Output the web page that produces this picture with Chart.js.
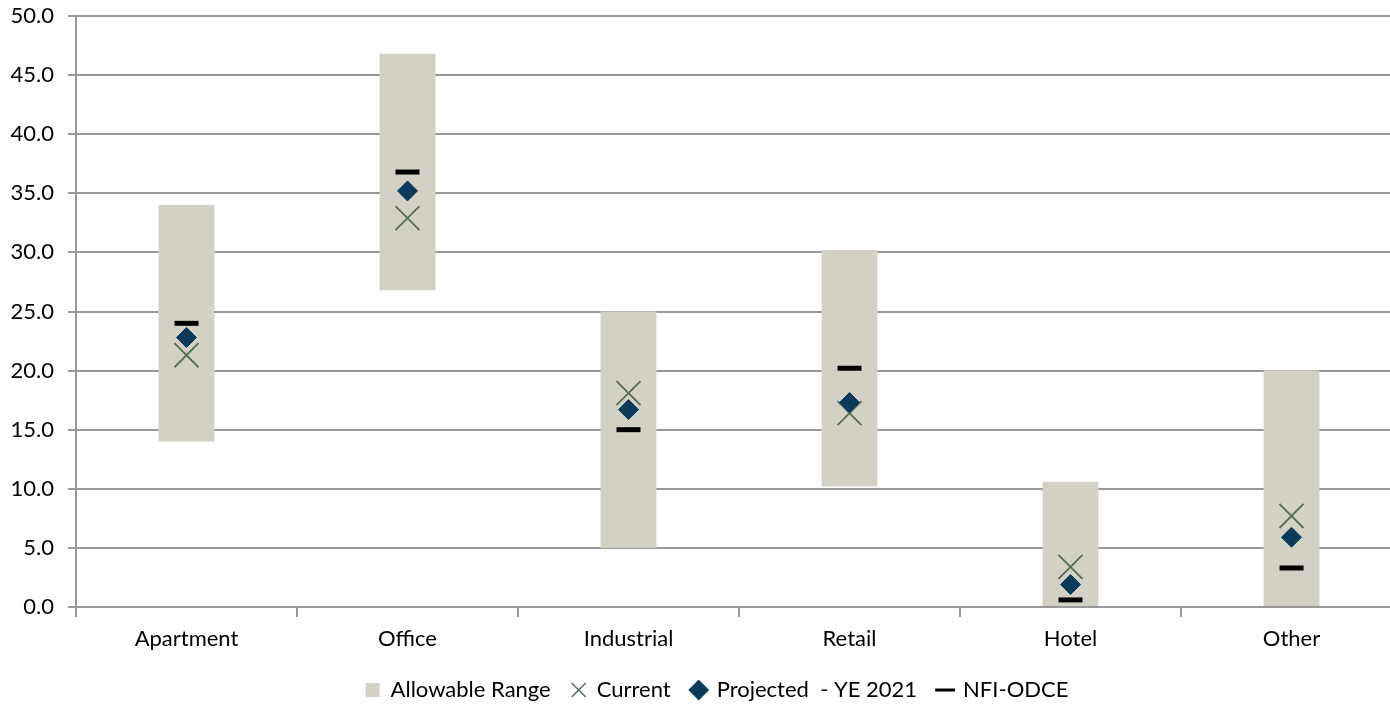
<!DOCTYPE html>
<html><head><meta charset="utf-8">
<script src="https://cdn.jsdelivr.net/npm/chart.js@4/dist/chart.umd.min.js"></script>
<style>
html,body{margin:0;padding:0;background:#fff;overflow:hidden;}
canvas{display:block;}
</style></head>
<body>
<canvas id="c" width="1434" height="704" style="width:1434px;height:704px"></canvas>
<script>
const categories = ["Apartment","Office","Industrial","Retail","Hotel","Other"];
const rangeLow  = [14.0, 26.8, 5.0, 10.2, 0.0, 0.0];
const rangeHigh = [34.0, 46.8, 25.0, 30.2, 10.6, 20.0];
const current   = [21.3, 32.9, 18.1, 16.4, 3.4, 7.7];
const projected = [22.8, 35.2, 16.7, 17.3, 1.9, 5.9];
const nfiOdce   = [24.0, 36.8, 15.0, 20.2, 0.6, 3.3];
const yTicks = [0,5,10,15,20,25,30,35,40,45,50];

const FONT = "Lato, 'Open Sans', sans-serif";
const FS = 22;
Chart.defaults.font.family = FONT;
Chart.defaults.font.size = FS;
Chart.defaults.color = '#000';

new Chart(document.getElementById('c'), {
  data: {
    labels: categories,
    datasets: [
      { type:'bar', label:'Allowable Range', data: rangeLow.map((l,i)=>[l, rangeHigh[i]]),
        backgroundColor:'#d3d1c5', borderWidth:0, barPercentage:0.253, categoryPercentage:1.0,
        pointStyle:'rect', order:3 },
      { type:'line', label:'Current', data: current, showLine:false, pointStyle:'crossRot',
        pointRadius:17, pointBorderWidth:1.8, borderColor:'#566b56', backgroundColor:'#566b56', order:2 },
      { type:'line', label:'Projected  - YE 2021', data: projected, showLine:false, pointStyle:'rectRot',
        pointRadius:10, pointBorderWidth:1, borderColor:'#0b3a5b', backgroundColor:'#0b3a5b', order:1 },
      { type:'line', label:'NFI-ODCE', data: nfiOdce, showLine:false, pointStyle:'line',
        pointRadius:12, pointBorderWidth:5, borderColor:'#000', backgroundColor:'#000', order:0 }
    ]
  },
  options: {
    responsive:false, animation:false, devicePixelRatio:1,
    layout:{ autoPadding:false, padding:{ top:16, left:0, right:0, bottom:0 } },
    plugins:{
      tooltip:{enabled:false},
      legend:{
        position:'bottom', maxHeight:46,
        labels:{
          usePointStyle:true, boxWidth:14, boxHeight:14, padding:21, color:'#000',
          font:{size:FS, family:FONT},
          sort:(a,b)=>a.datasetIndex-b.datasetIndex,
          generateLabels:(chart)=>{
            const items = Chart.defaults.plugins.legend.labels.generateLabels(chart);
            items.forEach(it=>{
              if (it.datasetIndex===3) it.lineWidth=3;
              if (it.datasetIndex===1) it.lineWidth=1.5;
            });
            return items;
          }
        }
      }
    },
    scales:{
      x:{
        offset:true,
        grid:{ offset:true, drawOnChartArea:false, drawTicks:true, tickLength:10, color:'#999', lineWidth:2 },
        border:{ color:'#999', width:2 },
        ticks:{ padding:9, color:'#000', font:{size:FS} },
        afterFit:(s)=>{ s.height = 51; s.paddingLeft = 0; s.paddingRight = 32; }
      },
      y:{
        min:0, max:50,
        afterBuildTicks:(s)=>{ s.ticks = yTicks.map(v=>({value:v})); },
        grid:{ color:'#999', lineWidth:2, tickLength:8 },
        border:{ color:'#999', width:2 },
        ticks:{ padding:14, color:'#000', font:{size:FS}, callback:(v)=>Number(v).toFixed(1) },
        afterFit:(s)=>{ s.width = 76; s.paddingTop = 0; s.paddingBottom = 0; }
      }
    }
  }
});
</script>
</body></html>
